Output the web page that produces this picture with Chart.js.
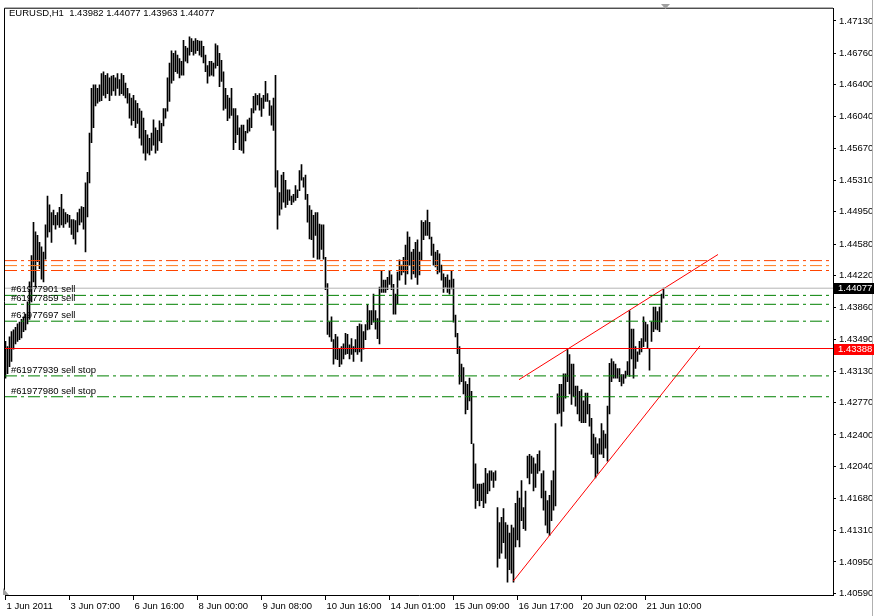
<!DOCTYPE html>
<html>
<head>
<meta charset="utf-8">
<title>EURUSD,H1</title>
<script src="https://cdn.jsdelivr.net/npm/chart.js@4.4.1/dist/chart.umd.min.js"></script>
<style>
  html, body { margin: 0; padding: 0; background: #ffffff; }
  #wrap { width: 875px; height: 616px; position: relative; }
</style>
</head>
<body>
<div id="wrap"><canvas id="grafico" width="875" height="616"></canvas></div>
<script>
// Dati del grafico (EURUSD H1)
const symbolTitle = "EURUSD,H1  1.43982 1.44077 1.43963 1.44077";
const timeLabels = ["1 Jun 2011", "3 Jun 07:00", "6 Jun 16:00", "8 Jun 00:00", "9 Jun 08:00",
  "10 Jun 16:00", "14 Jun 01:00", "15 Jun 09:00", "16 Jun 17:00", "20 Jun 02:00", "21 Jun 10:00"];
const labelEvery = 32; // una etichetta ogni 32 barre
const priceTicks = [1.4713, 1.4676, 1.4640, 1.4604, 1.4567, 1.4531, 1.4495, 1.4458, 1.4422, 1.4386,
  1.4349, 1.4313, 1.4277, 1.4240, 1.4204, 1.4168, 1.4131, 1.4095, 1.4059];

const highs = [
  1.4347, 1.4341, 1.4352, 1.4358, 1.4360, 1.4363, 1.4367, 1.4369, 1.4372, 1.4375,
  1.4378, 1.4392, 1.4415, 1.4445, 1.4483, 1.4472, 1.4468, 1.4460, 1.4455, 1.4449,
  1.4480, 1.4513, 1.4503, 1.4494, 1.4497, 1.4491, 1.4494, 1.4500, 1.4515, 1.4498,
  1.4494, 1.4492, 1.4491, 1.4486, 1.4486, 1.4485, 1.4494, 1.4498, 1.4501, 1.4500,
  1.4528, 1.4540, 1.4585, 1.4636, 1.4640, 1.4640, 1.4636, 1.4640, 1.4653, 1.4655,
  1.4651, 1.4653, 1.4648, 1.4650, 1.4651, 1.4648, 1.4653, 1.4646, 1.4653, 1.4651,
  1.4642, 1.4636, 1.4630, 1.4625, 1.4628, 1.4622, 1.4619, 1.4613, 1.4610, 1.4602,
  1.4588, 1.4583, 1.4579, 1.4585, 1.4600, 1.4591, 1.4588, 1.4599, 1.4596, 1.4613,
  1.4613, 1.4648, 1.4665, 1.4679, 1.4676, 1.4679, 1.4674, 1.4670, 1.4667, 1.4691,
  1.4684, 1.4682, 1.4695, 1.4693, 1.4690, 1.4693, 1.4691, 1.4690, 1.4690, 1.4684,
  1.4674, 1.4662, 1.4667, 1.4667, 1.4665, 1.4687, 1.4685, 1.4676, 1.4668, 1.4655,
  1.4636, 1.4628, 1.4625, 1.4636, 1.4613, 1.4613, 1.4605, 1.4591, 1.4594, 1.4594,
  1.4587, 1.4600, 1.4602, 1.4613, 1.4627, 1.4630, 1.4628, 1.4630, 1.4625, 1.4628,
  1.4644, 1.4630, 1.4622, 1.4616, 1.4625, 1.4651, 1.4542, 1.4517, 1.4537, 1.4540,
  1.4531, 1.4520, 1.4520, 1.4513, 1.4515, 1.4525, 1.4520, 1.4542, 1.4549, 1.4534,
  1.4537, 1.4515, 1.4502, 1.4497, 1.4491, 1.4494, 1.4494, 1.4481, 1.4480, 1.4480,
  1.4443, 1.4413, 1.4369, 1.4375, 1.4349, 1.4355, 1.4352, 1.4339, 1.4341, 1.4344,
  1.4356, 1.4355, 1.4343, 1.4350, 1.4341, 1.4349, 1.4364, 1.4367, 1.4366, 1.4358,
  1.4366, 1.4389, 1.4382, 1.4382, 1.4401, 1.4382, 1.4373, 1.4409, 1.4428, 1.4417,
  1.4417, 1.4420, 1.4428, 1.4423, 1.4412, 1.4401, 1.4426, 1.4440, 1.4434, 1.4443,
  1.4457, 1.4472, 1.4466, 1.4449, 1.4452, 1.4460, 1.4463, 1.4449, 1.4485, 1.4483,
  1.4485, 1.4497, 1.4483, 1.4466, 1.4458, 1.4449, 1.4451, 1.4447, 1.4434, 1.4424,
  1.4420, 1.4423, 1.4417, 1.4428, 1.4418, 1.4377, 1.4356, 1.4341, 1.4321, 1.4317,
  1.4301, 1.4298, 1.4305, 1.4290, 1.4230, 1.4207, 1.4184, 1.4184, 1.4184, 1.4185,
  1.4202, 1.4196, 1.4199, 1.4199, 1.4197, 1.4199, 1.4157, 1.4140, 1.4146, 1.4156,
  1.4140, 1.4137, 1.4128, 1.4137, 1.4134, 1.4162, 1.4176, 1.4168, 1.4188, 1.4157,
  1.4176, 1.4216, 1.4218, 1.4216, 1.4214, 1.4207, 1.4218, 1.4222, 1.4196, 1.4199,
  1.4176, 1.4165, 1.4171, 1.4188, 1.4199, 1.4253, 1.4287, 1.4298, 1.4298, 1.4310,
  1.4310, 1.4339, 1.4332, 1.4321, 1.4321, 1.4296, 1.4296, 1.4290, 1.4292, 1.4279,
  1.4288, 1.4288, 1.4275, 1.4259, 1.4241, 1.4237, 1.4230, 1.4236, 1.4253, 1.4245,
  1.4241, 1.4273, 1.4322, 1.4327, 1.4324, 1.4321, 1.4316, 1.4316, 1.4309, 1.4309,
  1.4313, 1.4324, 1.4382, 1.4361, 1.4361, 1.4341, 1.4335, 1.4347, 1.4350, 1.4375,
  1.4369, 1.4366, 1.4339, 1.4369, 1.4386, 1.4386, 1.4381, 1.4386, 1.4401, 1.44077
];

const lows = [
  1.4305, 1.4310, 1.4318, 1.4324, 1.4338, 1.4344, 1.4347, 1.4349, 1.4351, 1.4358,
  1.4360, 1.4367, 1.4372, 1.4392, 1.4415, 1.4409, 1.4438, 1.4430, 1.4418, 1.4415,
  1.4441, 1.4466, 1.4472, 1.4460, 1.4480, 1.4475, 1.4480, 1.4477, 1.4480, 1.4477,
  1.4481, 1.4483, 1.4477, 1.4469, 1.4464, 1.4458, 1.4472, 1.4480, 1.4483, 1.4475,
  1.4449, 1.4489, 1.4528, 1.4574, 1.4591, 1.4616, 1.4619, 1.4621, 1.4622, 1.4628,
  1.4625, 1.4630, 1.4622, 1.4628, 1.4633, 1.4628, 1.4636, 1.4628, 1.4630, 1.4628,
  1.4625, 1.4619, 1.4602, 1.4594, 1.4599, 1.4591, 1.4596, 1.4579, 1.4571, 1.4562,
  1.4554, 1.4562, 1.4560, 1.4565, 1.4571, 1.4562, 1.4565, 1.4576, 1.4574, 1.4593,
  1.4602, 1.4610, 1.4621, 1.4642, 1.4645, 1.4655, 1.4653, 1.4648, 1.4651, 1.4651,
  1.4667, 1.4665, 1.4674, 1.4678, 1.4674, 1.4676, 1.4679, 1.4674, 1.4672, 1.4665,
  1.4655, 1.4642, 1.4650, 1.4651, 1.4650, 1.4659, 1.4662, 1.4638, 1.4644, 1.4611,
  1.4613, 1.4599, 1.4602, 1.4605, 1.4566, 1.4574, 1.4583, 1.4566, 1.4565, 1.4562,
  1.4576, 1.4585, 1.4587, 1.4591, 1.4608, 1.4611, 1.4617, 1.4611, 1.4604, 1.4613,
  1.4621, 1.4621, 1.4605, 1.4594, 1.4588, 1.4523, 1.4475, 1.4491, 1.4498, 1.4506,
  1.4500, 1.4503, 1.4508, 1.4503, 1.4506, 1.4508, 1.4511, 1.4519, 1.4531, 1.4523,
  1.4509, 1.4483, 1.4464, 1.4463, 1.4443, 1.4468, 1.4441, 1.4441, 1.4452, 1.4441,
  1.4406, 1.4355, 1.4352, 1.4347, 1.4321, 1.4327, 1.4326, 1.4318, 1.4321, 1.4327,
  1.4332, 1.4333, 1.4327, 1.4332, 1.4324, 1.4335, 1.4332, 1.4335, 1.4324, 1.4338,
  1.4349, 1.4360, 1.4361, 1.4366, 1.4369, 1.4361, 1.4350, 1.4344, 1.4403, 1.4403,
  1.4403, 1.4406, 1.4412, 1.4406, 1.4378, 1.4378, 1.4390, 1.4417, 1.4423, 1.4426,
  1.4412, 1.4424, 1.4434, 1.4418, 1.4424, 1.4420, 1.4412, 1.4423, 1.4440, 1.4463,
  1.4468, 1.4468, 1.4464, 1.4445, 1.4434, 1.4432, 1.4424, 1.4426, 1.4417, 1.4403,
  1.4409, 1.4403, 1.4401, 1.4407, 1.4369, 1.4352, 1.4333, 1.4298, 1.4301, 1.4287,
  1.4264, 1.4269, 1.4279, 1.4230, 1.4179, 1.4156, 1.4165, 1.4159, 1.4165, 1.4157,
  1.4162, 1.4173, 1.4176, 1.4188, 1.4180, 1.4188, 1.4089, 1.4099, 1.4105, 1.4117,
  1.4099, 1.4072, 1.4086, 1.4082, 1.4072, 1.4112, 1.4120, 1.4112, 1.4142, 1.4133,
  1.4131, 1.4191, 1.4184, 1.4196, 1.4176, 1.4180, 1.4196, 1.4199, 1.4168, 1.4154,
  1.4137, 1.4128, 1.4125, 1.4142, 1.4154, 1.4159, 1.4264, 1.4265, 1.4250, 1.4267,
  1.4282, 1.4301, 1.4287, 1.4275, 1.4284, 1.4273, 1.4264, 1.4256, 1.4254, 1.4254,
  1.4254, 1.4264, 1.4250, 1.4218, 1.4214, 1.4191, 1.4196, 1.4218, 1.4218, 1.4214,
  1.4225, 1.4210, 1.4264, 1.4301, 1.4305, 1.4305, 1.4305, 1.4301, 1.4296, 1.4299,
  1.4305, 1.4309, 1.4307, 1.4327, 1.4305, 1.4316, 1.4324, 1.4332, 1.4335, 1.4341,
  1.4347, 1.4339, 1.4314, 1.4347, 1.4358, 1.4361, 1.4360, 1.4358, 1.4369, 1.43963
];

// Livelli orizzontali e ordini
const bidPrice = 1.44077;
const alertPrice = 1.43388;
const orangeLevels = [1.44392, 1.44335, 1.44279];
const orderLevels = [1.43995, 1.43893, 1.43700, 1.43075, 1.42837];
const orderNames = ["#61977901 sell", "#61977859 sell", "#61977697 sell",
  "#61977939 sell stop", "#61977980 sell stop"];

// Linee di tendenza (indice barra, prezzo)
const upperTrend = [[256.75, 1.43032], [356.25, 1.44462]];
const lowerTrend = [[253.9, 1.40731], [347.25, 1.43418]];

// Limiti degli assi
const xMin = -0.25, xMax = 413.75;
const yMin = 1.40572, yMax = 1.47270;

const FONT = "9.5px 'Liberation Sans', Arial, sans-serif";
const tickFont = { family: "'Liberation Sans', Arial, sans-serif", size: 9.5 };

function hLine(p) {
  return [{ x: xMin, y: p }, { x: xMax, y: p }];
}

function lineSet(points, color, dash) {
  return {
    type: "line",
    data: points,
    borderColor: color,
    borderWidth: 1,
    borderDash: dash || [],
    pointRadius: 0,
    fill: false,
    tension: 0,
    order: 1,
  };
}

const barData = highs.map((h, i) => ({ x: i, y: [lows[i], h] }));
const dashDot = [12, 4, 3, 4];

const datasets = [
  {
    type: "bar",
    data: barData,
    backgroundColor: "#000000",
    barThickness: 1,
    borderWidth: 0,
    order: 3,
  },
  lineSet(hLine(orangeLevels[0]), "#ff4500", dashDot),
  lineSet(hLine(orangeLevels[1]), "#ff7a1a", dashDot),
  lineSet(hLine(orangeLevels[2]), "#ff4500", dashDot),
  ...orderLevels.map((p) => lineSet(hLine(p), "#008000", dashDot)),
  lineSet(hLine(bidPrice), "#b4b4b4"),
  lineSet(hLine(alertPrice), "#ff0000"),
  lineSet(upperTrend.map(([x, y]) => ({ x, y })), "#ff0000"),
  lineSet(lowerTrend.map(([x, y]) => ({ x, y })), "#ff0000"),
];

// Testi e cornice stile MetaTrader
const mt4Overlay = {
  id: "mt4Overlay",
  afterDraw(chart) {
    const ctx = chart.ctx,
      a = chart.chartArea,
      ys = chart.scales.y;
    ctx.save();

    // cornice sinistra e superiore
    ctx.strokeStyle = "#000";
    ctx.lineWidth = 1;
    ctx.beginPath();
    ctx.moveTo(a.left - 0.5, a.bottom);
    ctx.lineTo(a.left - 0.5, a.top - 0.5);
    ctx.lineTo(a.right, a.top - 0.5);
    ctx.stroke();

    // bordo destro della finestra
    ctx.strokeStyle = "#b0b0b0";
    ctx.beginPath();
    ctx.moveTo(872.5, 0);
    ctx.lineTo(872.5, 616);
    ctx.stroke();

    // triangolini grigi
    ctx.fillStyle = "#a0a0a0";
    ctx.beginPath();
    ctx.moveTo(661, 4);
    ctx.lineTo(670, 4);
    ctx.lineTo(665.5, 9);
    ctx.fill();
    ctx.beginPath();
    ctx.moveTo(3, 588);
    ctx.lineTo(3, 595);
    ctx.lineTo(9, 595);
    ctx.fill();

    ctx.font = FONT;
    ctx.fillStyle = "#000";
    ctx.textAlign = "left";
    ctx.textBaseline = "middle";
    ctx.fillText(symbolTitle, 9, 13);

    orderLevels.forEach((p, k) => {
      ctx.fillText(orderNames[k], 11, Math.round(ys.getPixelForValue(p)) - 6);
    });

    // etichette di prezzo sull'asse
    function priceBox(p, bg) {
      const yy = Math.round(ys.getPixelForValue(p));
      ctx.fillStyle = bg;
      ctx.fillRect(a.right + 1, yy - 5, 40, 11);
      ctx.fillStyle = "#ffffff";
      ctx.fillText(p.toFixed(5), a.right + 5, yy + 0.5);
    }
    priceBox(bidPrice, "#000000");
    priceBox(alertPrice, "#ff0000");

    ctx.restore();
  },
};

const grafico = new Chart(document.getElementById("grafico").getContext("2d"), {
  type: "bar",
  data: { datasets },
  options: {
    responsive: false,
    animation: false,
    events: [],
    layout: { padding: { left: 5, top: 5, right: 0, bottom: 0 } },
    plugins: {
      legend: { display: false },
      tooltip: { enabled: false },
    },
    scales: {
      x: {
        type: "linear",
        min: xMin,
        max: xMax,
        offset: false,
        grid: { drawOnChartArea: false, drawTicks: true, tickLength: 5, color: "#000", offset: false },
        border: { display: true, color: "#000" },
        ticks: {
          autoSkip: false,
          maxRotation: 0,
          align: "start",
          labelOffset: 1,
          padding: 1,
          color: "#000",
          font: tickFont,
          callback: (v) => timeLabels[Math.round(v / labelEvery)] || "",
        },
        afterBuildTicks: (s) => {
          s.ticks = timeLabels.map((t, k) => ({ value: k * labelEvery }));
        },
        afterFit: (s) => {
          s.height = 21;
        },
      },
      y: {
        type: "linear",
        position: "right",
        min: yMin,
        max: yMax,
        grid: { drawOnChartArea: false, tickLength: 3, color: "#000" },
        border: { display: true, color: "#000" },
        ticks: {
          color: "#000",
          padding: 3,
          font: tickFont,
          callback: (v) => Number(v).toFixed(5),
        },
        afterBuildTicks: (s) => {
          s.ticks = priceTicks.map((v) => ({ value: v }));
        },
        afterFit: (s) => {
          s.width = 42;
        },
      },
    },
  },
  plugins: [mt4Overlay],
});
</script>
</body>
</html>
